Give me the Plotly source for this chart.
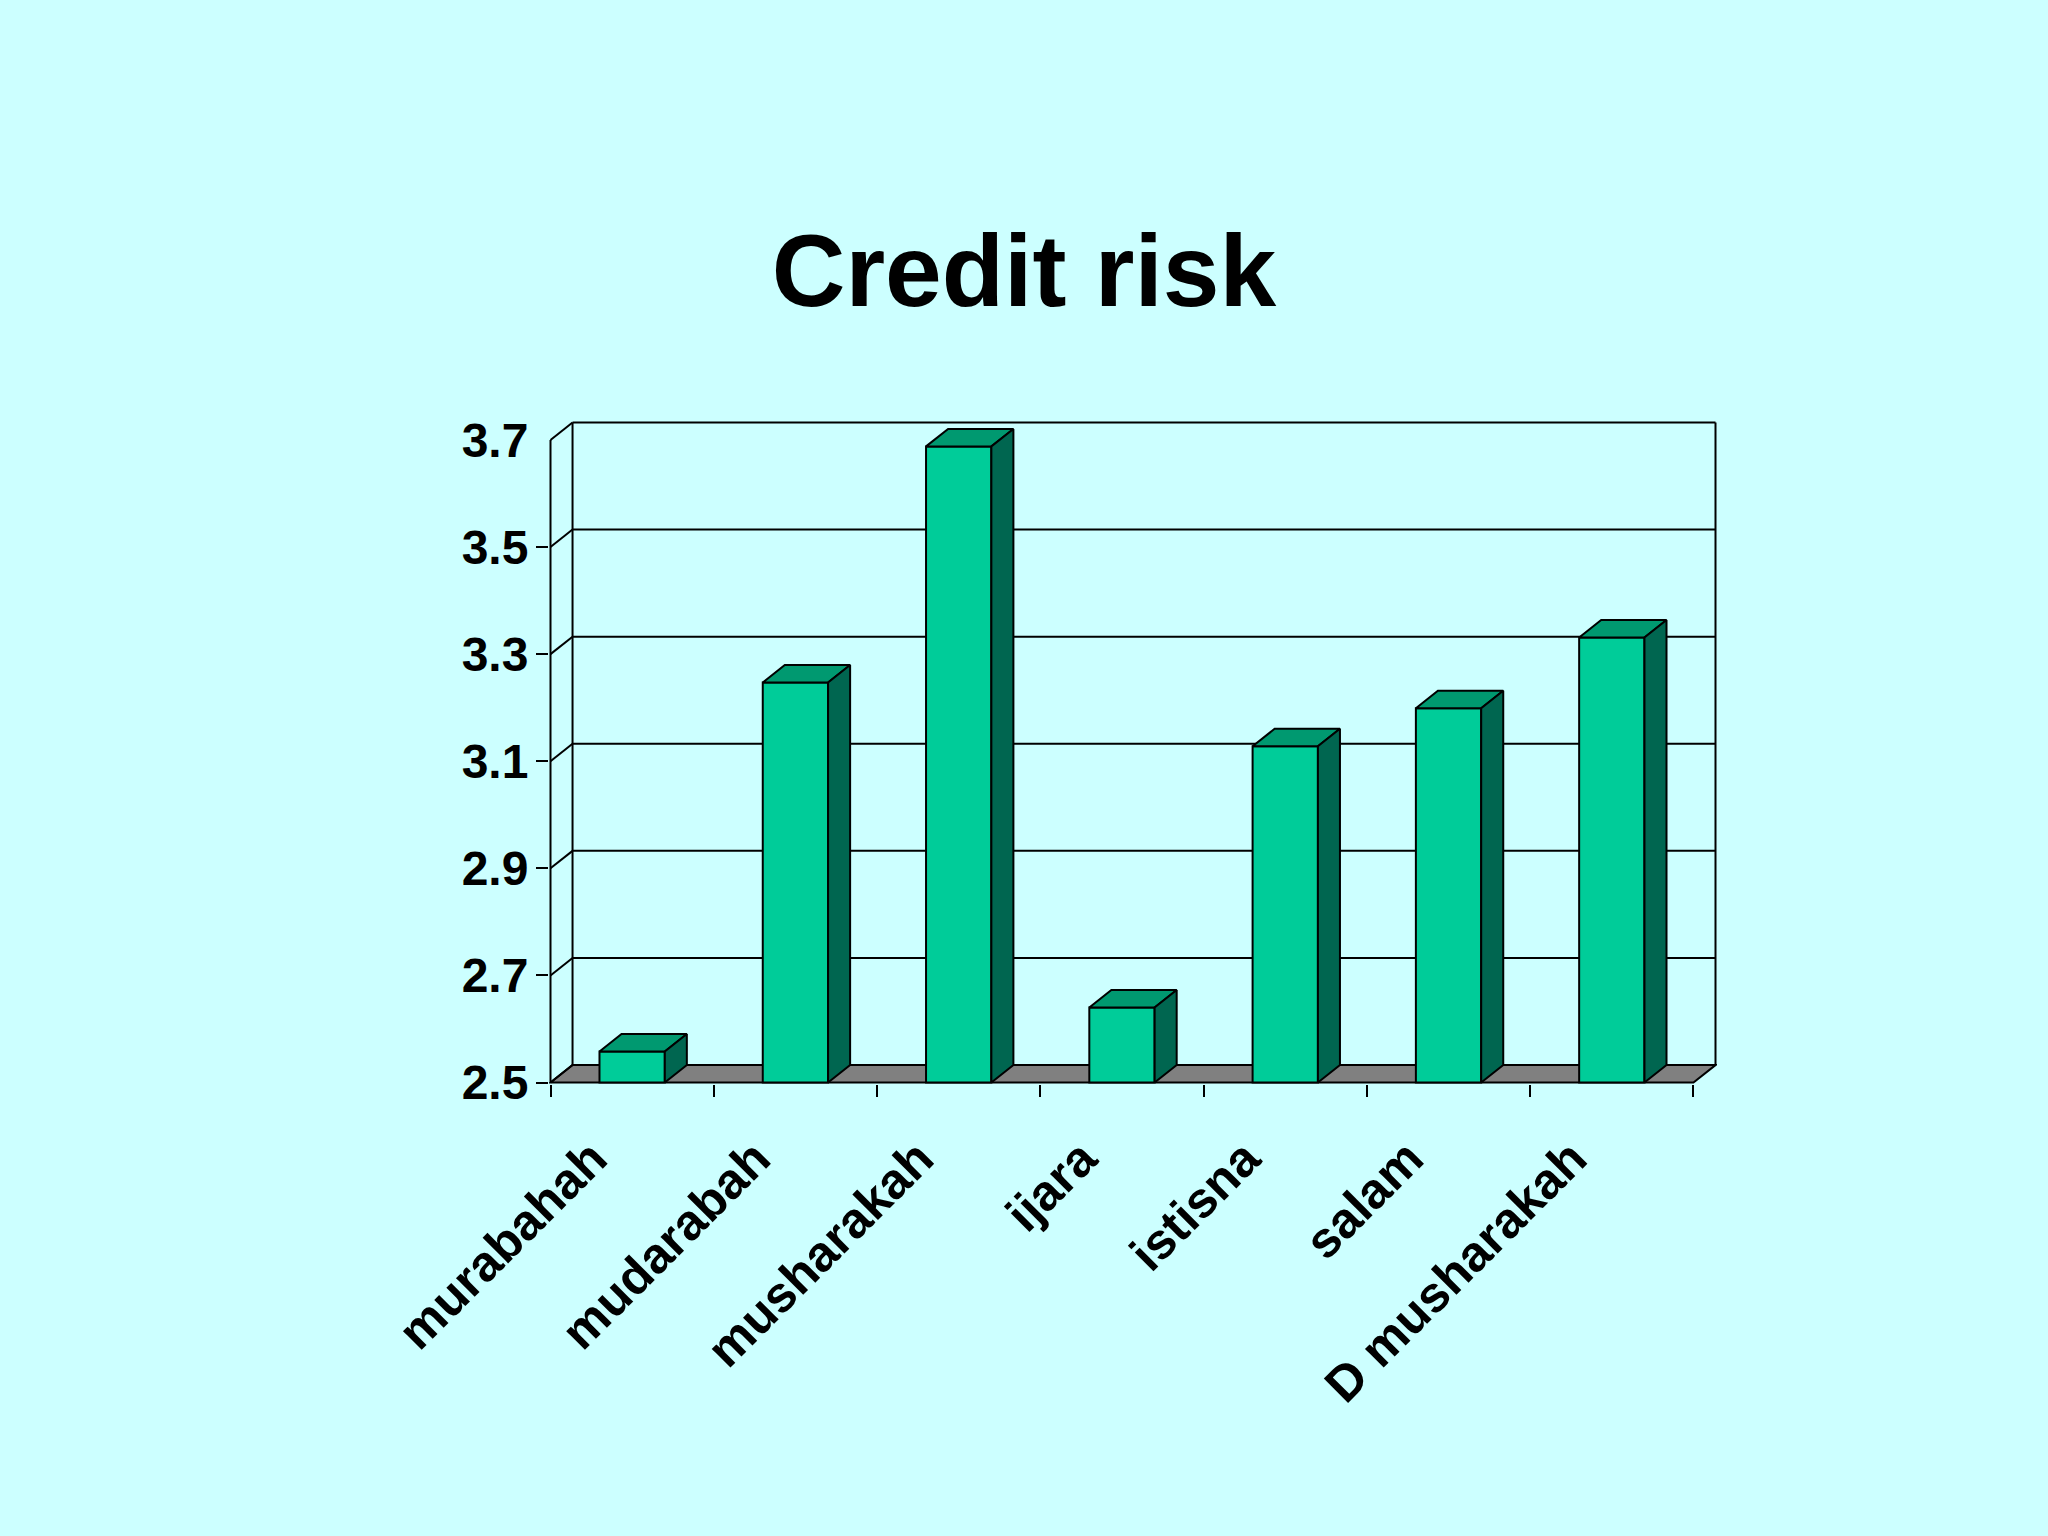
import plotly.graph_objects as go

# Values
categories = ["murabahah", "mudarabah", "musharakah", "ijara", "istisna", "salam", "D musharakah"]
credit_risk = [2.558, 3.247, 3.688, 2.64, 3.128, 3.199, 3.331]
y_ticks = [2.5, 2.7, 2.9, 3.1, 3.3, 3.5, 3.7]

# Fake 3D depth, in axis units
dx = 0.135
dy = 0.0326
bar_width = 0.4
y_floor = y_ticks[0]
y_top = y_ticks[-1]
x_left = -0.5
x_right = len(categories) - 0.5
pad_x = 0.0092
pad_y = 0.0028

positions = list(range(len(categories)))
boundaries = [x_left + i for i in range(len(categories) + 1)]

bg = "#CCFFFF"
front_color = "#00CC99"
top_color = "#009970"
side_color = "#006650"
floor_color = "#808080"
line_style = dict(color="black", width=2)

shapes = []


def wall_line(x0, y0, x1, y1):
    shapes.append(dict(type="line", xref="x", yref="y", x0=x0, y0=y0, x1=x1, y1=y1,
                       line=line_style, layer="below"))


# Grey floor
shapes.append(dict(
    type="path", xref="x", yref="y", layer="below", fillcolor=floor_color, line=line_style,
    path=f"M {x_left} {y_floor} L {x_right} {y_floor} L {x_right + dx} {y_floor + dy} "
         f"L {x_left + dx} {y_floor + dy} Z",
))

# Back wall grid and side wall connectors
for tick in y_ticks:
    wall_line(x_left, tick, x_left + dx, tick + dy)
    wall_line(x_left + dx, tick + dy, x_right + dx, tick + dy)
wall_line(x_left, y_floor, x_left, y_top)
wall_line(x_left + dx, y_floor + dy, x_left + dx, y_top + dy)
wall_line(x_right + dx, y_floor + dy, x_right + dx, y_top + dy)

fig = go.Figure()

# Front faces
fig.add_trace(go.Bar(
    x=positions,
    y=[v - y_floor for v in credit_risk],
    base=y_floor,
    width=bar_width,
    marker=dict(color=front_color, line=line_style),
    hoverinfo="skip",
))

# Top and side faces
top_x, top_y, side_x, side_y = [], [], [], []
for pos, value in zip(positions, credit_risk):
    left = pos - bar_width / 2
    right = pos + bar_width / 2
    top_x += [left, right, right + dx, left + dx, left, None]
    top_y += [value, value, value + dy, value + dy, value, None]
    side_x += [right, right + dx, right + dx, right, right, None]
    side_y += [y_floor, y_floor + dy, value + dy, value, y_floor, None]

for xs, ys, color in [(top_x, top_y, top_color), (side_x, side_y, side_color)]:
    fig.add_trace(go.Scatter(x=xs, y=ys, mode="lines", fill="toself", fillcolor=color,
                             line=line_style, hoverinfo="skip"))

fig.update_layout(
    width=2048,
    height=1536,
    paper_bgcolor=bg,
    plot_bgcolor=bg,
    showlegend=False,
    shapes=shapes,
    margin=dict(l=548.5, r=330.5, t=420.5, b=451.5),
    font=dict(family="Liberation Sans", color="black"),
    title=dict(text="<b>Credit risk</b>", x=0.5, xanchor="center", y=1 - 270 / 1536, yanchor="middle",
               font=dict(size=102, family="Liberation Sans", color="black")),
)

fig.update_xaxes(
    range=[x_left - pad_x, x_right + dx + pad_x],
    showgrid=False, zeroline=False, showline=False,
    tickmode="array", tickvals=positions, ticktext=[f"<b>{c}</b>" for c in categories],
    tickangle=-45, tickfont=dict(size=50, family="Liberation Sans", color="black"),
    ticks="outside", ticklen=12, tickcolor="rgba(0,0,0,0)",
    ticklabelstandoff=12, ticklabelshift=-40,
    minor=dict(tickmode="array", tickvals=boundaries, ticks="outside", ticklen=12,
               tickwidth=2, tickcolor="black", showgrid=False),
)
fig.update_yaxes(
    range=[y_floor - pad_y, y_top + dy + pad_y],
    showgrid=False, zeroline=False, showline=False,
    tickmode="array", tickvals=y_ticks, ticktext=[f"<b>{t:.1f}</b>" for t in y_ticks],
    tickfont=dict(size=48, family="Liberation Sans", color="black"),
    ticks="outside", ticklen=10, tickcolor="rgba(0,0,0,0)",
    minor=dict(tickmode="array", tickvals=y_ticks[:-1], ticks="outside", ticklen=12,
               tickwidth=2, tickcolor="black", showgrid=False),
)

# Drop the page's default margin so the figure fills the window
fig.write_html("out.html", config=dict(displayModeBar=False),
               post_script="document.body.style.margin = '0';")
